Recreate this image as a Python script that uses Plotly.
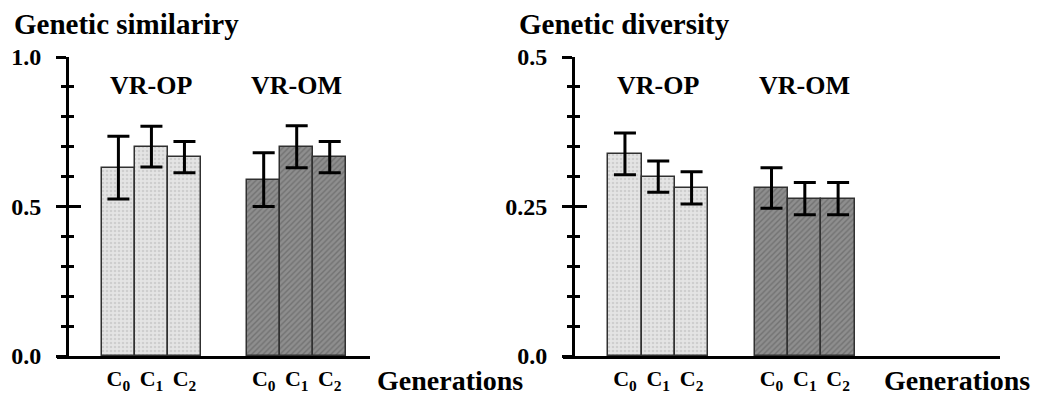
import plotly.graph_objects as go

# ---- data ----
generations = ["C<sub>0</sub>", "C<sub>1</sub>", "C<sub>2</sub>"]
groups = ["VR-OP", "VR-OM"]

sim_op = [0.63, 0.70, 0.665]
sim_op_err = [0.105, 0.068, 0.052]
sim_om = [0.59, 0.70, 0.665]
sim_om_err = [0.09, 0.07, 0.052]

div_op = [0.338, 0.300, 0.281]
div_op_err = [0.035, 0.026, 0.027]
div_om = [0.281, 0.263, 0.263]
div_om_err = [0.034, 0.027, 0.027]

sim_ticks = [0.0, 0.5, 1.0]
sim_ticktext = ["0.0", "0.5", "1.0"]
div_ticks = [0.0, 0.25, 0.5]
div_ticktext = ["0.0", "0.25", "0.5"]

# ---- styling ----
W, H = 1040, 395
FONT = "Liberation Serif"
GROUP_STEP = 4.4
styles = {
    "VR-OP": dict(bg="#e4e4e4", fg="#b8b8b8", shape="."),
    "VR-OM": dict(bg="#8e8e8e", fg="#555555", shape="/"),
}

def pos(gi):
    return [gi * GROUP_STEP + k for k in range(len(generations))]

fig = go.Figure()

panels = [
    ("x", "y", [(sim_op, sim_op_err), (sim_om, sim_om_err)]),
    ("x2", "y2", [(div_op, div_op_err), (div_om, div_om_err)]),
]
for xa, ya, series in panels:
    for gi, (vals, errs) in enumerate(series):
        st = styles[groups[gi]]
        fig.add_trace(go.Bar(
            x=pos(gi), y=vals, width=1.0, xaxis=xa, yaxis=ya,
            marker=dict(color=st["bg"],
                        line=dict(color="#303030", width=1.5),
                        pattern=dict(shape=st["shape"], bgcolor=st["bg"],
                                     fgcolor=st["fg"], size=4, solidity=0.35)),
            error_y=dict(type="data", array=errs, visible=True,
                         color="black", thickness=3, width=11),
            showlegend=False, hoverinfo="skip",
        ))

# invisible traces to carry the overlay (inside-tick) axes
fig.add_trace(go.Scatter(x=[0], y=[0], xaxis="x", yaxis="y3", mode="markers",
                         marker=dict(opacity=0), showlegend=False, hoverinfo="skip"))
fig.add_trace(go.Scatter(x=[0], y=[0], xaxis="x2", yaxis="y4", mode="markers",
                         marker=dict(opacity=0), showlegend=False, hoverinfo="skip"))

ydom = [(H - 356) / H, (H - 57) / H]
xdom1 = [57 / W, 370 / W]
xdom2 = [563 / W, 1000 / W]
tick_font = dict(family=FONT, size=24, color="black", weight="bold")
xt_font = dict(family=FONT, size=22, color="black", weight="bold")

centers = [p for gi in range(len(groups)) for p in pos(gi)]
ctext = generations * len(groups)

xcommon = dict(showline=True, linewidth=3, linecolor="black", ticks="",
               showgrid=False, zeroline=False, tickvals=centers, ticktext=ctext,
               tickfont=xt_font, ticklabelstandoff=1, automargin=False)
ycommon = dict(automargin=False, showgrid=False, zeroline=False)
fig.update_layout(
    xaxis=dict(domain=xdom1, range=[-1.86, 7.62], anchor="y", **xcommon),
    xaxis2=dict(domain=xdom2, range=[-1.86, 11.26], anchor="y2", **xcommon),
    yaxis=dict(domain=ydom, range=[0, 1.0], anchor="free", position=67 / W,
               showline=True, linewidth=3, linecolor="black",
               tickvals=sim_ticks, ticktext=sim_ticktext,
               ticks="outside", ticklen=10, tickwidth=3, tickcolor="black",
               tickfont=tick_font, ticklabelstandoff=10,
               minor=dict(ticks="outside", ticklen=5, tickwidth=2.5,
                          tickcolor="black", dtick=0.1, showgrid=False), **ycommon),
    yaxis3=dict(domain=ydom, range=[0, 1.0], anchor="free", position=67 / W,
                overlaying="y", showline=False,
                tickvals=sim_ticks, showticklabels=False,
                ticks="inside", ticklen=13, tickwidth=3, tickcolor="black",
                minor=dict(ticks="inside", ticklen=6, tickwidth=2.5,
                           tickcolor="black", dtick=0.1, showgrid=False), **ycommon),
    yaxis2=dict(domain=ydom, range=[0, 0.5], anchor="free", position=573 / W,
                showline=True, linewidth=3, linecolor="black",
                tickvals=div_ticks, ticktext=div_ticktext,
                ticks="outside", ticklen=10, tickwidth=3, tickcolor="black",
                tickfont=tick_font, ticklabelstandoff=10,
                minor=dict(ticks="outside", ticklen=5, tickwidth=2.5,
                           tickcolor="black", dtick=0.05, showgrid=False), **ycommon),
    yaxis4=dict(domain=ydom, range=[0, 0.5], anchor="free", position=573 / W,
                overlaying="y2", showline=False,
                tickvals=div_ticks, showticklabels=False,
                ticks="inside", ticklen=13, tickwidth=3, tickcolor="black",
                minor=dict(ticks="inside", ticklen=6, tickwidth=2.5,
                           tickcolor="black", dtick=0.05, showgrid=False), **ycommon),
    width=W, height=H, margin=dict(l=0, r=0, t=0, b=0, autoexpand=False),
    plot_bgcolor="white", paper_bgcolor="white", showlegend=False,
    bargap=0,
)

title_font = dict(family=FONT, size=29, color="black", weight="bold")
gen_font = dict(family=FONT, size=28, color="black", weight="bold")
grp_font = dict(family=FONT, size=26, color="black", weight="bold")
ann = [
    dict(text="Genetic similariry", x=12 / W, y=(H - 24) / H, xref="paper", yref="paper",
         xanchor="left", yanchor="middle", showarrow=False, font=title_font),
    dict(text="Genetic diversity", x=517 / W, y=(H - 24) / H, xref="paper", yref="paper",
         xanchor="left", yanchor="middle", showarrow=False, font=title_font),
    dict(text="Generations", x=375 / W, y=(H - 380) / H, xref="paper", yref="paper",
         xanchor="left", yanchor="middle", showarrow=False, font=gen_font),
    dict(text="Generations", x=882 / W, y=(H - 380) / H, xref="paper", yref="paper",
         xanchor="left", yanchor="middle", showarrow=False, font=gen_font),
]
for xa in ["x", "x2"]:
    for gi, g in enumerate(groups):
        ann.append(dict(text=g, x=gi * GROUP_STEP + 1, y=(H - 85) / H, xref=xa,
                        yref="paper", xanchor="center", yanchor="middle",
                        showarrow=False, font=grp_font))
fig.update_layout(annotations=ann)

fig.write_html("out.html")
